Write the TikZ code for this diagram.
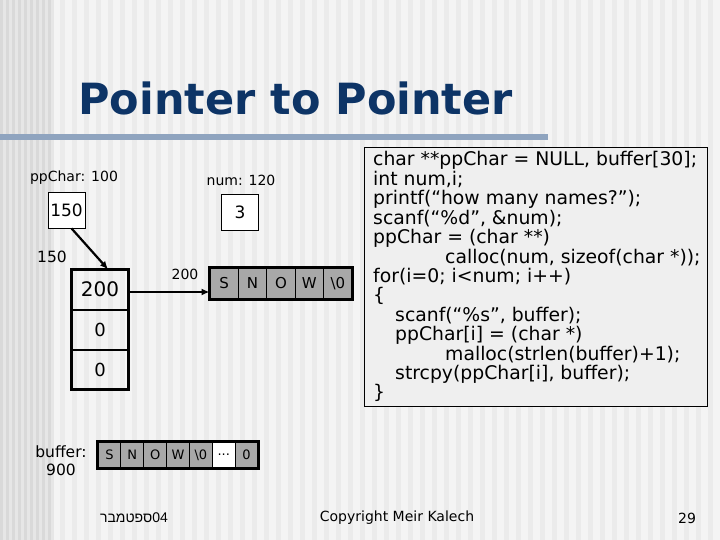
\documentclass[tikz,border=0pt]{standalone}
\usepackage{fontspec}
\setmainfont{DejaVu Sans}
\newfontfamily\hebfont[Script=Hebrew]{Liberation Sans}
\TeXXeTstate=1
\usetikzlibrary{arrows.meta}
\definecolor{titleblue}{HTML}{0D3466}
\definecolor{rulecol}{HTML}{8FA4BF}
\definecolor{cellgray}{HTML}{A8A8A8}
\definecolor{codebg}{HTML}{EFEFEF}
\definecolor{bgbase}{HTML}{F4F4F4}
\definecolor{bgstripe}{HTML}{EBEBEB}
\definecolor{ldark}{HTML}{D9D9D9}
\definecolor{llight}{HTML}{E6E6E6}
\tikzset{
  lbl/.style={font=\fontsize{14}{16}\selectfont, inner sep=0pt},
  valbox/.style={draw, fill=white, line width=0.8pt, minimum width=37pt, minimum height=36pt, inner sep=0pt, font=\fontsize{17}{19}\selectfont},
  prow/.style={minimum width=56pt, minimum height=40pt, inner sep=0pt, font=\fontsize{18}{20}\selectfont},
  scell/.style={draw, fill=cellgray, line width=1pt, minimum width=28.4pt, minimum height=31pt, inner sep=0pt, font=\fontsize{15}{17}\selectfont},
  bcell/.style={draw, fill=cellgray, line width=1pt, minimum width=22.86pt, minimum height=26pt, inner sep=0pt, font=\fontsize{13}{15}\selectfont},
  codeline/.style={anchor=base west, inner sep=0pt, font=\fontsize{18.8}{20}\selectfont},
  foot/.style={font=\fontsize{14}{16}\selectfont, inner sep=0pt},
  arr/.style={line width=2.2pt, -{Latex[length=8pt,width=7pt]}},
  outer/.style={line width=2.8pt}
}
\begin{document}
\begin{tikzpicture}[x=1pt,y=-1pt]
\useasboundingbox (0,0) rectangle (720,540);
% background
\fill[bgbase] (0,0) rectangle (720,540);
\foreach \i in {0,...,8} {\fill[ldark] (\i*6,0) rectangle (\i*6+3,540);
  \fill[llight] (\i*6+3,0) rectangle (\i*6+6,540);}
\foreach \i in {0,...,55} {\fill[bgstripe] (60+\i*12,0) rectangle (65+\i*12,540);}
% title
\node[anchor=base west, inner sep=0pt, text=titleblue, font=\bfseries\fontsize{43}{46}\selectfont] (title) at (78,115) {Pointer to Pointer};
\fill[rulecol] (0,134) rectangle (548,140);
% code box
\node[draw, fill=codebg, line width=0.8pt, minimum width=343pt, minimum height=259pt, inner sep=0pt] (code) at (535.5,276.5) {};
\node[codeline] (c1) at (373,166) {char **ppChar = NULL, buffer[30];};
\node[codeline] (c2) at (373,185.4) {int num,i;};
\node[codeline] (c3) at (373,204.8) {printf(“how many names?”);};
\node[codeline] (c4) at (373,224.2) {scanf(“\%d”, \&num);};
\node[codeline] (c5) at (373,243.6) {ppChar = (char **)};
\node[codeline] (c6) at (445,263) {calloc(num, sizeof(char *));};
\node[codeline] (c7) at (373,282.4) {for(i=0; i<num; i++)};
\node[codeline] (c8) at (373,301.8) {\{};
\node[codeline] (c9) at (395,321.2) {scanf(“\%s”, buffer);};
\node[codeline] (c10) at (395,340.6) {ppChar[i] = (char *)};
\node[codeline] (c11) at (445,360) {malloc(strlen(buffer)+1);};
\node[codeline] (c12) at (395,379.4) {strcpy(ppChar[i], buffer);};
\node[codeline] (c13) at (373,398.8) {\}};
% variables
\node[lbl] (pplbl) at (74,178) {ppChar: 100};
\node[lbl] (numlbl) at (241,180) {num: 120};
\node[valbox] (pp) at (66.5,210) {150};
\node[valbox] (num) at (240,212.5) {3};
\node[lbl, font=\fontsize{15.5}{17}\selectfont] (l150) at (52,257) {150};
% pointer array
\node[prow, font=\fontsize{20}{22}\selectfont] (r1) at (100,289.5) {200};
\node[prow] (r2) at (100,329.5) {0};
\node[prow] (r3) at (100,369.5) {0};
\draw[line width=1.8pt] (r1.south west) -- (r1.south east) (r2.south west) -- (r2.south east);
\draw[outer] (r1.north west) rectangle (r3.south east);
\draw[arr] ([xshift=5pt]pp.south) -- ([xshift=8pt]r1.north);
% string
\foreach \t [count=\k from 0] in {S,N,O,W,\textbackslash 0}
  \node[scell] (s\k) at (224.2+28.4*\k,283.5) {\t};
\draw[outer] (s0.north west) rectangle (s4.south east);
\node[lbl] (l200) at (185,274) {200};
\coordinate (ay) at (0,292);
\draw[arr] (r1.east |- ay) -- (s0.west |- ay);
% buffer
\node[lbl, align=center, font=\fontsize{15.5}{18}\selectfont] (buflbl) at (61,461) {buffer:\\900};
\foreach \t [count=\k from 0] in {S,N,O,W,\textbackslash 0}
  \node[bcell] (b\k) at (109.43+22.86*\k,455) {\t};
\node[bcell, fill=white] (b5) at (109.43+22.86*5,455) {...};
\node[bcell] (b6) at (109.43+22.86*6,455) {0};
\draw[outer] (b0.north west) rectangle (b6.south east);
% footer
\node[foot, font=\hebfont\fontsize{14}{16}\selectfont] (date) at (134,518) {\beginR\beginL 04\endL ספטמבר\endR};
\node[foot] (copy) at (397,518) {Copyright Meir Kalech};
\node[foot] (page) at (687,518) {29};
\end{tikzpicture}
\end{document}
